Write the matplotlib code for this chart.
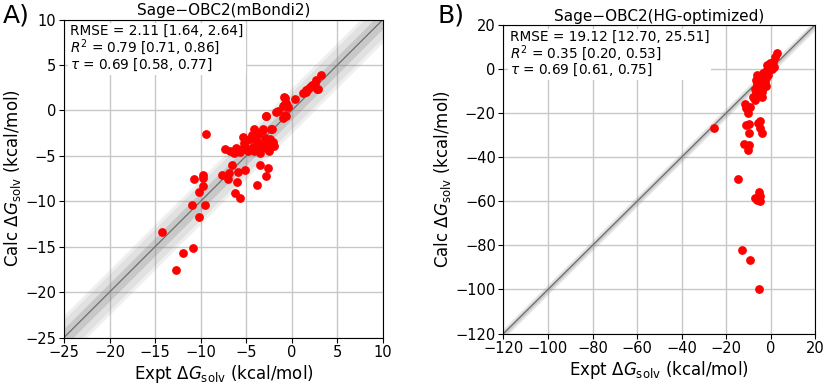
import numpy as np
import matplotlib
matplotlib.use('Agg')
import matplotlib.pyplot as plt

# panel A: Sage-OBC2(mBondi2)
a_expt = [-12.7, -11.9, -10.8, -14.2, -10.2, -11.0, -9.5, -10.2, -9.7, -10.7,
          -9.8, -9.7, -9.4, -7.7, -7.0, -6.9, -6.6, -5.9, -6.0, -6.2,
          -5.7, -5.1, -3.85, -3.55, -2.8, -2.6, -7.3, -6.8, -6.3, -5.7,
          -5.4, -5.2, -5.0, -4.6, -4.4, -4.3, -4.0, -3.85, -3.55, -3.4,
          -3.2, -3.0, -2.8, -2.6, -2.4, -2.2, -2.1, -2.5, -5.5, -4.8,
          -4.1, -3.55, -6.1, -2.86, -1.7, -0.88, -0.6, -0.9, -0.4, -0.6,
          0.3, 3.15, 2.7, 2.5, 2.2, 1.8, 1.5, 1.2, 2.0, 2.8,
          -0.8, -1.0, -1.5, -0.8, -2.8, -1.0, -4.1, -3.2, -2.3, 1.6,
          2.9, -4.9, -3.7, -2.0]
a_calc = [-17.6, -15.75, -15.2, -13.4, -11.7, -10.4, -10.4, -9.0, -8.35, -7.6,
          -7.07, -7.4, -2.6, -7.07, -7.6, -6.9, -6.0, -6.8, -7.9, -9.15,
          -9.6, -6.6, -8.2, -5.97, -7.2, -6.3, -4.2, -4.5, -4.7, -4.6,
          -2.9, -3.6, -4.1, -3.2, -2.7, -4.0, -2.3, -3.4, -4.3, -3.8,
          -2.2, -3.0, -4.1, -3.6, -3.2, -2.1, -3.5, -4.5, -4.3, -4.5,
          -4.5, -4.7, -4.1, -0.58, -0.2, 1.47, 0.8, 0.6, 0.4, -0.65,
          1.3, 3.9, 3.3, 3.0, 2.8, 2.4, 2.2, 1.9, 2.6, 2.3,
          1.4, 0.45, -0.1, -0.5, -0.65, -0.85, -2.05, -2.05, -2.0, 2.0,
          2.4, -3.3, -2.6, -3.9]

# panel B: Sage-OBC2(HG-optimized)
b_expt = [-25.3, -14.5, -12.7, -9.3, -5.1, -5.1, -4.8, -7.0, -6.0, -4.8,
          -11.5, -10.8, -9.3, -10.3, -11.1, -9.6, -9.6, -5.8, -4.5, -4.8,
          -4.0, -12.0, -9.6, -10.3, 2.7, 2.0, 1.2, -0.3, -1.5, -6.0,
          -7.8, -7.0, -4.0, -6.5, -5.5, -4.5, -3.5, -2.5, -1.5, -0.5,
          -7.0, -6.0, -5.0, -4.0, -3.0, -2.0, -1.0, 0.5, 1.5, -6.5,
          -5.5, -4.5, -3.5, -2.5, -3.0, -5.0, -4.0, -2.0, -6.0, -5.2]
b_calc = [-26.8, -50.0, -81.9, -86.7, -100.0, -55.7, -57.7, -58.7, -59.2, -60.0,
          -16.0, -17.6, -17.4, -20.1, -25.3, -25.0, -28.9, -24.7, -23.6, -26.9,
          -29.2, -34.0, -34.5, -36.8, 7.1, 5.6, 3.3, 2.6, 1.8, -2.7,
          -12.9, -14.0, -12.9, -5.0, -4.0, -3.0, -2.0, -1.5, -0.5, 0.5,
          -9.0, -8.0, -7.0, -6.5, -5.0, -4.0, -2.5, 0.0, 1.0, -11.0,
          -10.0, -9.5, -8.5, -6.0, -3.5, -11.5, -10.5, -7.5, -7.0, -6.0]

a_stats = ['RMSE = 2.11 [1.64, 2.64]', r'$R^2$ = 0.79 [0.71, 0.86]', r'$\tau$ = 0.69 [0.58, 0.77]']
b_stats = ['RMSE = 19.12 [12.70, 25.51]', r'$R^2$ = 0.35 [0.20, 0.53]', r'$\tau$ = 0.69 [0.61, 0.75]']


def draw_panel(ax, expt, calc, lims, ticks, title, stats):
	x = np.array(lims, dtype=float)
	ax.fill_between(x, x - 2.5, x + 2.5, color='grey', alpha=0.12, lw=0)
	ax.fill_between(x, x - 2, x + 2, color='grey', alpha=0.12, lw=0)
	ax.fill_between(x, x - 1, x + 1, color='grey', alpha=0.25, lw=0)
	ax.plot(x, x, color='#6e6e6e', lw=0.9)
	ax.scatter(expt, calc, s=28, color='red', zorder=3)
	ax.set_xlim(lims)
	ax.set_ylim(lims)
	ax.set_xticks(ticks)
	ax.set_yticks(ticks)
	ax.grid(True, color='#c8c8c8', lw=1)
	ax.set_axisbelow(True)
	ax.set_title(title, fontsize=11, pad=3)
	ax.set_xlabel(r'Expt $\Delta G_{\mathrm{solv}}$ (kcal/mol)', fontsize=12, labelpad=2)
	ax.set_ylabel(r'Calc $\Delta G_{\mathrm{solv}}$ (kcal/mol)', fontsize=12, labelpad=2)
	ax.tick_params(labelsize=10.5, pad=2)
	ax.text(0.02, 0.985, '\n'.join(stats), transform=ax.transAxes, va='top', ha='left',
	        fontsize=9.8, linespacing=0.95, zorder=4,
	        bbox=dict(facecolor='white', edgecolor='none', pad=1.5))


fig = plt.figure(figsize=(8.27, 3.84), dpi=100)
ax1 = fig.add_axes([64 / 827, 1 - 337.5 / 384, 319 / 827, 318 / 384])
ax2 = fig.add_axes([503.5 / 827, 1 - 333.5 / 384, 311.5 / 827, 308.5 / 384])

draw_panel(ax1, a_expt, a_calc, [-25, 10], range(-25, 11, 5), 'Sage\u2212OBC2(mBondi2)', a_stats)
draw_panel(ax2, b_expt, b_calc, [-120, 20], range(-120, 21, 20), 'Sage\u2212OBC2(HG-optimized)', b_stats)

fig.text(3 / 827, 1 - 16 / 384, 'A)', fontsize=18, va='center')
fig.text(437 / 827, 1 - 16 / 384, 'B)', fontsize=18, va='center')

fig.savefig('out.png', dpi=100)
